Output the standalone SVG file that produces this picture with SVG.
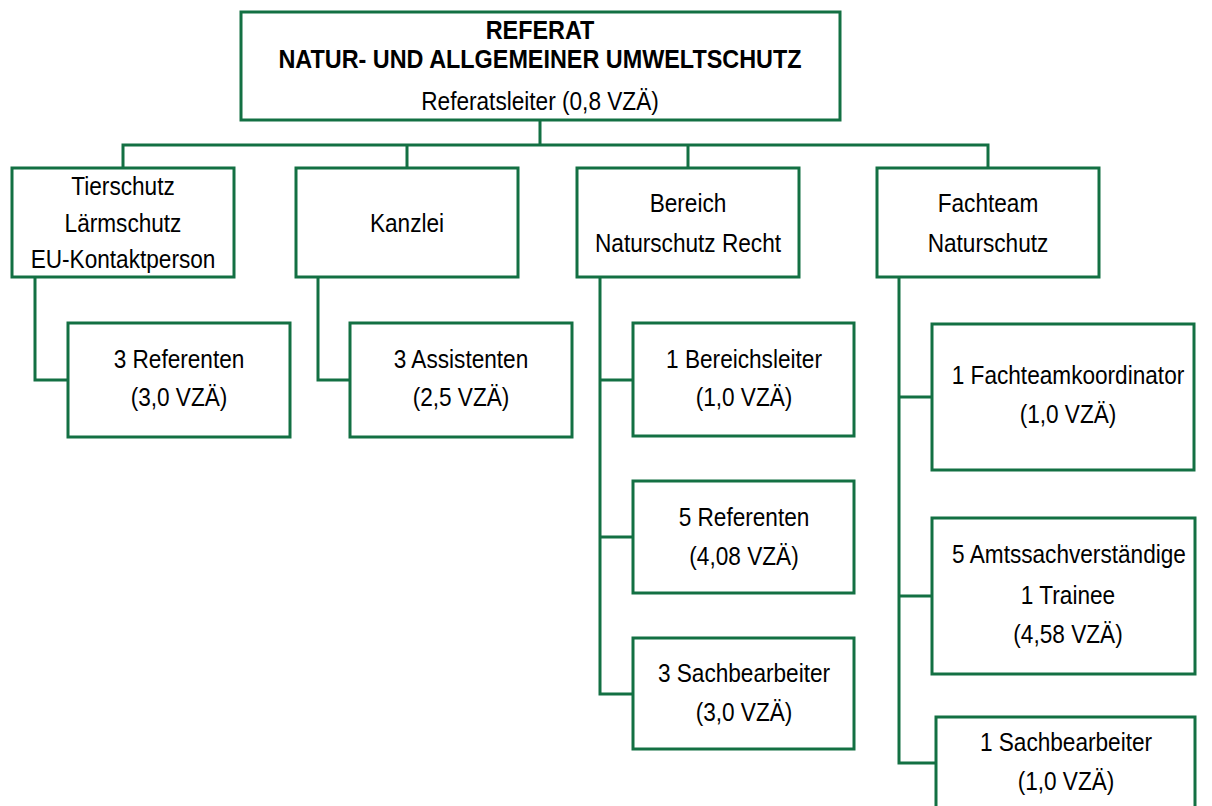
<svg xmlns="http://www.w3.org/2000/svg" width="1212" height="806" viewBox="0 0 1212 806">
<style>
.box{fill:#fff;stroke:#137043;stroke-width:3}
.c{fill:none;stroke:#137043;stroke-width:3}
text{font-family:"Liberation Sans","Arial",sans-serif;font-size:26px;fill:#000;text-anchor:middle}
.b{font-weight:bold;font-size:26px}
</style>
<rect width="1212" height="806" fill="#fff"/>
<g id="connectors">
<path class="c" d="M540,120V145M123,168V145H988V168M407,145V168M688,145V168"/>
<path class="c" d="M35,277V380H68"/>
<path class="c" d="M318,277V380H350"/>
<path class="c" d="M600,277V694H633M600,380H633M600,537H633"/>
<path class="c" d="M899,277V763H936M899,397H932M899,596H932"/>
</g>
<g id="referat"><rect class="box" x="241" y="12" width="599" height="108"/>
<text class="b" transform="translate(540 39) scale(.9 1)">REFERAT</text>
<text class="b" transform="translate(540 68) scale(.9 1)">NATUR- UND ALLGEMEINER UMWELTSCHUTZ</text>
<text transform="translate(540 110) scale(.87 1)">Referatsleiter (0,8 VZÄ)</text></g>
<g id="tierschutz"><rect class="box" x="12" y="168" width="222" height="109"/>
<text transform="translate(123 195) scale(.87 1)">Tierschutz</text><text transform="translate(123 232) scale(.87 1)">Lärmschutz</text><text transform="translate(123 268) scale(.87 1)">EU-Kontaktperson</text></g>
<g id="kanzlei"><rect class="box" x="296" y="168" width="222" height="109"/>
<text transform="translate(407 232) scale(.87 1)">Kanzlei</text></g>
<g id="bereich"><rect class="box" x="577" y="168" width="222" height="109"/>
<text transform="translate(688 212) scale(.87 1)">Bereich</text><text transform="translate(688 252) scale(.87 1)">Naturschutz Recht</text></g>
<g id="fachteam"><rect class="box" x="877" y="168" width="222" height="109"/>
<text transform="translate(988 212) scale(.87 1)">Fachteam</text><text transform="translate(988 252) scale(.87 1)">Naturschutz</text></g>
<g id="referenten3"><rect class="box" x="68" y="323" width="222" height="114"/>
<text transform="translate(179 368) scale(.87 1)">3 Referenten</text><text transform="translate(179 406) scale(.87 1)">(3,0 VZÄ)</text></g>
<g id="assistenten"><rect class="box" x="350" y="323" width="222" height="114"/>
<text transform="translate(461 368) scale(.87 1)">3 Assistenten</text><text transform="translate(461 406) scale(.87 1)">(2,5 VZÄ)</text></g>
<g id="bereichsleiter"><rect class="box" x="633" y="323" width="221" height="113"/>
<text transform="translate(744 368) scale(.87 1)">1 Bereichsleiter</text><text transform="translate(744 406) scale(.87 1)">(1,0 VZÄ)</text></g>
<g id="referenten5"><rect class="box" x="633" y="481" width="221" height="112"/>
<text transform="translate(744 526) scale(.87 1)">5 Referenten</text><text transform="translate(744 565) scale(.87 1)">(4,08 VZÄ)</text></g>
<g id="sachbearbeiter3"><rect class="box" x="633" y="638" width="221" height="111"/>
<text transform="translate(744 682) scale(.87 1)">3 Sachbearbeiter</text><text transform="translate(744 721) scale(.87 1)">(3,0 VZÄ)</text></g>
<g id="koordinator"><rect class="box" x="932" y="324" width="262" height="146"/>
<text transform="translate(1068 384) scale(.87 1)">1 Fachteamkoordinator</text><text transform="translate(1068 423) scale(.87 1)">(1,0 VZÄ)</text></g>
<g id="amtssachverstaendige"><rect class="box" x="932" y="518" width="263" height="156"/>
<text transform="translate(1069 563) scale(.87 1)">5 Amtssachverständige</text><text transform="translate(1068 604) scale(.87 1)">1 Trainee</text><text transform="translate(1068 643) scale(.87 1)">(4,58 VZÄ)</text></g>
<g id="sachbearbeiter1"><rect class="box" x="936" y="717" width="259" height="110"/>
<text transform="translate(1066 751) scale(.87 1)">1 Sachbearbeiter</text><text transform="translate(1066 790) scale(.87 1)">(1,0 VZÄ)</text></g>
</svg>
